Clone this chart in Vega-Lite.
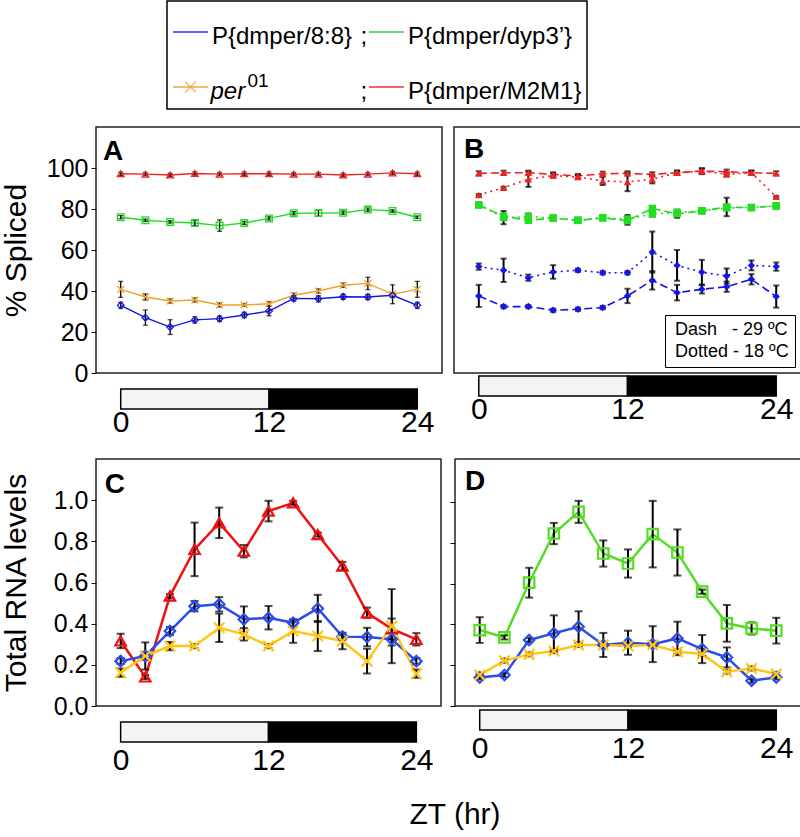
{
  "$schema": "https://vega.github.io/schema/vega-lite/v6.json",
  "padding": 0,
  "background": "white",
  "config": {
    "font": "Liberation Sans",
    "view": {"stroke": "#222222", "strokeWidth": 1.5},
    "axis": {"labelFont": "Liberation Sans", "titleFont": "Liberation Sans", "labelColor": "black", "titleColor": "black", "tickColor": "black", "grid": false, "domain": false, "titleFontWeight": "normal"},
    "title": {"font": "Liberation Sans", "color": "black"},
    "legend": {"labelFont": "Liberation Sans", "labelColor": "black"}
  },
  "datasets": {
    "leg": [
      {"s": "8:8", "col": 0, "row": 0, "label": "P{dmper/8:8}", "sup": ""},
      {"s": "dyp3", "col": 1, "row": 0, "label": "P{dmper/dyp3’}", "sup": ""},
      {"s": "per01", "col": 0, "row": 1, "label": "per", "sup": "01"},
      {"s": "M2M1", "col": 1, "row": 1, "label": "P{dmper/M2M1}", "sup": ""}
    ],
    "bar": [
      {"phase": "light", "start": 0, "end": 12},
      {"phase": "dark", "start": 12, "end": 24}
    ],
    "A": [
      {"s":"M2M1","t":0,"v":97.2,"lo":96.4,"hi":98.0},{"s":"M2M1","t":2,"v":97.0,"lo":96.2,"hi":97.8},{"s":"M2M1","t":4,"v":96.6,"lo":95.8,"hi":97.4},{"s":"M2M1","t":6,"v":97.3,"lo":96.5,"hi":98.1},{"s":"M2M1","t":8,"v":97.0,"lo":96.2,"hi":97.8},{"s":"M2M1","t":10,"v":97.2,"lo":96.4,"hi":98.0},{"s":"M2M1","t":12,"v":97.2,"lo":96.4,"hi":98.0},{"s":"M2M1","t":14,"v":97.0,"lo":96.2,"hi":97.8},{"s":"M2M1","t":16,"v":97.0,"lo":96.2,"hi":97.8},{"s":"M2M1","t":18,"v":96.6,"lo":95.8,"hi":97.4},{"s":"M2M1","t":20,"v":97.0,"lo":96.2,"hi":97.8},{"s":"M2M1","t":22,"v":97.6,"lo":96.8,"hi":98.4},{"s":"M2M1","t":24,"v":97.2,"lo":96.4,"hi":98.0},
      {"s":"dyp3","t":0,"v":76.0,"lo":75.2,"hi":76.8},{"s":"dyp3","t":2,"v":74.5,"lo":73.9,"hi":75.1},{"s":"dyp3","t":4,"v":73.7,"lo":73.1,"hi":74.3},{"s":"dyp3","t":6,"v":73.2,"lo":72.0,"hi":74.4},{"s":"dyp3","t":8,"v":71.9,"lo":69.1,"hi":74.7},{"s":"dyp3","t":10,"v":73.2,"lo":72.4,"hi":74.0},{"s":"dyp3","t":12,"v":75.4,"lo":74.6,"hi":76.2},{"s":"dyp3","t":14,"v":77.9,"lo":77.1,"hi":78.7},{"s":"dyp3","t":16,"v":78.0,"lo":76.5,"hi":79.5},{"s":"dyp3","t":18,"v":78.2,"lo":77.4,"hi":79.0},{"s":"dyp3","t":20,"v":79.7,"lo":78.9,"hi":80.5},{"s":"dyp3","t":22,"v":79.0,"lo":78.4,"hi":79.6},{"s":"dyp3","t":24,"v":76.0,"lo":75.4,"hi":76.6},
      {"s":"per01","t":0,"v":40.8,"lo":36.9,"hi":44.7},{"s":"per01","t":2,"v":37.1,"lo":35.6,"hi":38.6},{"s":"per01","t":4,"v":35.1,"lo":34.1,"hi":36.1},{"s":"per01","t":6,"v":35.6,"lo":34.6,"hi":36.6},{"s":"per01","t":8,"v":33.2,"lo":32.2,"hi":34.2},{"s":"per01","t":10,"v":33.2,"lo":32.5,"hi":33.9},{"s":"per01","t":12,"v":33.8,"lo":32.8,"hi":34.8},{"s":"per01","t":14,"v":37.9,"lo":36.9,"hi":38.9},{"s":"per01","t":16,"v":40.0,"lo":39.0,"hi":41.0},{"s":"per01","t":18,"v":42.8,"lo":41.8,"hi":43.8},{"s":"per01","t":20,"v":43.7,"lo":40.7,"hi":46.7},{"s":"per01","t":22,"v":38.4,"lo":33.8,"hi":43.0},{"s":"per01","t":24,"v":40.8,"lo":36.9,"hi":44.7},
      {"s":"8:8","t":0,"v":33.0,"lo":31.5,"hi":34.5},{"s":"8:8","t":2,"v":27.0,"lo":23.3,"hi":30.7},{"s":"8:8","t":4,"v":22.4,"lo":18.8,"hi":26.0},{"s":"8:8","t":6,"v":25.9,"lo":24.4,"hi":27.4},{"s":"8:8","t":8,"v":26.5,"lo":25.2,"hi":27.8},{"s":"8:8","t":10,"v":28.3,"lo":27.0,"hi":29.6},{"s":"8:8","t":12,"v":30.2,"lo":27.9,"hi":32.5},{"s":"8:8","t":14,"v":36.4,"lo":35.1,"hi":37.7},{"s":"8:8","t":16,"v":36.2,"lo":34.7,"hi":37.7},{"s":"8:8","t":18,"v":37.2,"lo":35.9,"hi":38.5},{"s":"8:8","t":20,"v":37.1,"lo":35.8,"hi":38.4},{"s":"8:8","t":22,"v":37.9,"lo":36.9,"hi":38.9},{"s":"8:8","t":24,"v":33.0,"lo":31.5,"hi":34.5}
    ],
    "B": [
      {"s":"M2M1","temp":"29","t":0,"v":97.4,"lo":96.4,"hi":98.4},{"s":"M2M1","temp":"29","t":2,"v":97.7,"lo":96.7,"hi":98.7},{"s":"M2M1","temp":"29","t":4,"v":97.7,"lo":96.7,"hi":98.7},{"s":"M2M1","temp":"29","t":6,"v":96.9,"lo":95.9,"hi":97.9},{"s":"M2M1","temp":"29","t":8,"v":96.1,"lo":95.1,"hi":97.1},{"s":"M2M1","temp":"29","t":10,"v":97.2,"lo":96.2,"hi":98.2},{"s":"M2M1","temp":"29","t":12,"v":97.4,"lo":96.4,"hi":98.4},{"s":"M2M1","temp":"29","t":14,"v":96.9,"lo":95.9,"hi":97.9},{"s":"M2M1","temp":"29","t":16,"v":97.7,"lo":96.7,"hi":98.7},{"s":"M2M1","temp":"29","t":18,"v":98.5,"lo":97.0,"hi":100.0},{"s":"M2M1","temp":"29","t":20,"v":98.2,"lo":97.2,"hi":99.2},{"s":"M2M1","temp":"29","t":22,"v":97.7,"lo":96.7,"hi":98.7},{"s":"M2M1","temp":"29","t":24,"v":97.4,"lo":96.4,"hi":98.4},
      {"s":"M2M1","temp":"18","t":0,"v":86.8,"lo":86.3,"hi":87.3},{"s":"M2M1","temp":"18","t":2,"v":90.4,"lo":89.9,"hi":90.9},{"s":"M2M1","temp":"18","t":4,"v":94.5,"lo":90.8,"hi":98.2},{"s":"M2M1","temp":"18","t":6,"v":96.3,"lo":95.3,"hi":97.3},{"s":"M2M1","temp":"18","t":8,"v":95.6,"lo":94.6,"hi":96.6},{"s":"M2M1","temp":"18","t":10,"v":93.7,"lo":91.7,"hi":95.7},{"s":"M2M1","temp":"18","t":12,"v":93.2,"lo":88.7,"hi":97.7},{"s":"M2M1","temp":"18","t":14,"v":94.5,"lo":92.5,"hi":96.5},{"s":"M2M1","temp":"18","t":16,"v":97.7,"lo":96.7,"hi":98.7},{"s":"M2M1","temp":"18","t":18,"v":98.5,"lo":97.5,"hi":99.5},{"s":"M2M1","temp":"18","t":20,"v":96.9,"lo":95.9,"hi":97.9},{"s":"M2M1","temp":"18","t":22,"v":97.7,"lo":96.7,"hi":98.7},{"s":"M2M1","temp":"18","t":24,"v":85.9,"lo":85.4,"hi":86.4},
      {"s":"dyp3","temp":"29","t":0,"v":82.0,"lo":81.2,"hi":82.8},{"s":"dyp3","temp":"29","t":2,"v":76.5,"lo":75.5,"hi":77.5},{"s":"dyp3","temp":"29","t":4,"v":74.5,"lo":73.5,"hi":75.5},{"s":"dyp3","temp":"29","t":6,"v":75.6,"lo":74.6,"hi":76.6},{"s":"dyp3","temp":"29","t":8,"v":74.4,"lo":73.4,"hi":75.4},{"s":"dyp3","temp":"29","t":10,"v":75.6,"lo":74.6,"hi":76.6},{"s":"dyp3","temp":"29","t":12,"v":74.3,"lo":72.3,"hi":76.3},{"s":"dyp3","temp":"29","t":14,"v":80.3,"lo":79.5,"hi":81.1},{"s":"dyp3","temp":"29","t":16,"v":77.7,"lo":75.7,"hi":79.7},{"s":"dyp3","temp":"29","t":18,"v":79.0,"lo":78.0,"hi":80.0},{"s":"dyp3","temp":"29","t":20,"v":81.0,"lo":76.5,"hi":85.5},{"s":"dyp3","temp":"29","t":22,"v":80.6,"lo":79.6,"hi":81.6},{"s":"dyp3","temp":"29","t":24,"v":81.5,"lo":80.7,"hi":82.3},
      {"s":"dyp3","temp":"18","t":0,"v":82.0,"lo":81.2,"hi":82.8},{"s":"dyp3","temp":"18","t":2,"v":75.8,"lo":72.6,"hi":79.0},{"s":"dyp3","temp":"18","t":4,"v":76.3,"lo":74.8,"hi":77.8},{"s":"dyp3","temp":"18","t":6,"v":75.6,"lo":74.6,"hi":76.6},{"s":"dyp3","temp":"18","t":8,"v":74.6,"lo":73.6,"hi":75.6},{"s":"dyp3","temp":"18","t":10,"v":75.8,"lo":74.8,"hi":76.8},{"s":"dyp3","temp":"18","t":12,"v":75.1,"lo":73.1,"hi":77.1},{"s":"dyp3","temp":"18","t":14,"v":77.5,"lo":76.5,"hi":78.5},{"s":"dyp3","temp":"18","t":16,"v":78.3,"lo":77.3,"hi":79.3},{"s":"dyp3","temp":"18","t":18,"v":79.2,"lo":78.2,"hi":80.2},{"s":"dyp3","temp":"18","t":20,"v":80.5,"lo":79.5,"hi":81.5},{"s":"dyp3","temp":"18","t":22,"v":80.8,"lo":79.8,"hi":81.8},{"s":"dyp3","temp":"18","t":24,"v":81.5,"lo":80.7,"hi":82.3},
      {"s":"8:8","temp":"18","t":0,"v":51.9,"lo":50.4,"hi":53.4},{"s":"8:8","temp":"18","t":2,"v":50.1,"lo":44.4,"hi":55.8},{"s":"8:8","temp":"18","t":4,"v":46.5,"lo":45.0,"hi":48.0},{"s":"8:8","temp":"18","t":6,"v":49.3,"lo":46.0,"hi":52.6},{"s":"8:8","temp":"18","t":8,"v":50.1,"lo":49.3,"hi":50.9},{"s":"8:8","temp":"18","t":10,"v":48.9,"lo":48.1,"hi":49.7},{"s":"8:8","temp":"18","t":12,"v":48.9,"lo":48.1,"hi":49.7},{"s":"8:8","temp":"18","t":14,"v":59.0,"lo":49.0,"hi":69.0},{"s":"8:8","temp":"18","t":16,"v":52.5,"lo":45.0,"hi":60.0},{"s":"8:8","temp":"18","t":18,"v":49.2,"lo":43.2,"hi":55.2},{"s":"8:8","temp":"18","t":20,"v":47.3,"lo":43.6,"hi":51.0},{"s":"8:8","temp":"18","t":22,"v":52.5,"lo":50.1,"hi":54.9},{"s":"8:8","temp":"18","t":24,"v":51.9,"lo":49.9,"hi":53.9},
      {"s":"8:8","temp":"29","t":0,"v":37.6,"lo":32.2,"hi":43.0},{"s":"8:8","temp":"29","t":2,"v":32.4,"lo":31.6,"hi":33.2},{"s":"8:8","temp":"29","t":4,"v":32.4,"lo":31.6,"hi":33.2},{"s":"8:8","temp":"29","t":6,"v":30.6,"lo":29.8,"hi":31.4},{"s":"8:8","temp":"29","t":8,"v":31.1,"lo":30.3,"hi":31.9},{"s":"8:8","temp":"29","t":10,"v":31.9,"lo":31.1,"hi":32.7},{"s":"8:8","temp":"29","t":12,"v":37.6,"lo":34.1,"hi":41.1},{"s":"8:8","temp":"29","t":14,"v":45.2,"lo":40.7,"hi":49.7},{"s":"8:8","temp":"29","t":16,"v":39.2,"lo":35.4,"hi":43.0},{"s":"8:8","temp":"29","t":18,"v":40.8,"lo":38.8,"hi":42.8},{"s":"8:8","temp":"29","t":20,"v":42.1,"lo":39.6,"hi":44.6},{"s":"8:8","temp":"29","t":22,"v":45.7,"lo":43.2,"hi":48.2},{"s":"8:8","temp":"29","t":24,"v":37.3,"lo":31.9,"hi":42.7}
    ],
    "C": [
      {"s":"M2M1","t":0,"v":0.316,"lo":0.281,"hi":0.351},{"s":"M2M1","t":2,"v":0.141,"lo":0.131,"hi":0.151},{"s":"M2M1","t":4,"v":0.534,"lo":0.524,"hi":0.544},{"s":"M2M1","t":6,"v":0.761,"lo":0.631,"hi":0.891},{"s":"M2M1","t":8,"v":0.890,"lo":0.816,"hi":0.964},{"s":"M2M1","t":10,"v":0.752,"lo":0.722,"hi":0.782},{"s":"M2M1","t":12,"v":0.947,"lo":0.897,"hi":0.997},{"s":"M2M1","t":14,"v":0.987,"lo":0.977,"hi":0.997},{"s":"M2M1","t":16,"v":0.833,"lo":0.823,"hi":0.843},{"s":"M2M1","t":18,"v":0.680,"lo":0.660,"hi":0.700},{"s":"M2M1","t":20,"v":0.453,"lo":0.428,"hi":0.478},{"s":"M2M1","t":22,"v":0.375,"lo":0.325,"hi":0.425},{"s":"M2M1","t":24,"v":0.324,"lo":0.294,"hi":0.354},
      {"s":"8:8","t":0,"v":0.218,"lo":0.203,"hi":0.233},{"s":"8:8","t":2,"v":0.243,"lo":0.177,"hi":0.309},{"s":"8:8","t":4,"v":0.364,"lo":0.344,"hi":0.384},{"s":"8:8","t":6,"v":0.485,"lo":0.460,"hi":0.510},{"s":"8:8","t":8,"v":0.494,"lo":0.459,"hi":0.529},{"s":"8:8","t":10,"v":0.421,"lo":0.358,"hi":0.484},{"s":"8:8","t":12,"v":0.429,"lo":0.372,"hi":0.486},{"s":"8:8","t":14,"v":0.404,"lo":0.389,"hi":0.419},{"s":"8:8","t":16,"v":0.474,"lo":0.408,"hi":0.540},{"s":"8:8","t":18,"v":0.337,"lo":0.322,"hi":0.352},{"s":"8:8","t":20,"v":0.335,"lo":0.290,"hi":0.380},{"s":"8:8","t":22,"v":0.324,"lo":0.294,"hi":0.354},{"s":"8:8","t":24,"v":0.218,"lo":0.203,"hi":0.233},
      {"s":"per01","t":0,"v":0.162,"lo":0.142,"hi":0.182},{"s":"per01","t":2,"v":0.243,"lo":0.223,"hi":0.263},{"s":"per01","t":4,"v":0.291,"lo":0.271,"hi":0.311},{"s":"per01","t":6,"v":0.291,"lo":0.281,"hi":0.301},{"s":"per01","t":8,"v":0.380,"lo":0.311,"hi":0.449},{"s":"per01","t":10,"v":0.348,"lo":0.318,"hi":0.378},{"s":"per01","t":12,"v":0.291,"lo":0.281,"hi":0.301},{"s":"per01","t":14,"v":0.364,"lo":0.307,"hi":0.421},{"s":"per01","t":16,"v":0.340,"lo":0.267,"hi":0.413},{"s":"per01","t":18,"v":0.316,"lo":0.276,"hi":0.356},{"s":"per01","t":20,"v":0.218,"lo":0.158,"hi":0.278},{"s":"per01","t":22,"v":0.388,"lo":0.208,"hi":0.568},{"s":"per01","t":24,"v":0.157,"lo":0.137,"hi":0.177}
    ],
    "D": [
      {"s":"dyp3","t":0,"v":0.372,"lo":0.309,"hi":0.435},{"s":"dyp3","t":2,"v":0.336,"lo":0.326,"hi":0.346},{"s":"dyp3","t":4,"v":0.604,"lo":0.531,"hi":0.677},{"s":"dyp3","t":6,"v":0.845,"lo":0.793,"hi":0.897},{"s":"dyp3","t":8,"v":0.951,"lo":0.897,"hi":1.005},{"s":"dyp3","t":10,"v":0.747,"lo":0.683,"hi":0.811},{"s":"dyp3","t":12,"v":0.698,"lo":0.629,"hi":0.767},{"s":"dyp3","t":14,"v":0.842,"lo":0.679,"hi":1.005},{"s":"dyp3","t":16,"v":0.752,"lo":0.639,"hi":0.865},{"s":"dyp3","t":18,"v":0.560,"lo":0.550,"hi":0.570},{"s":"dyp3","t":20,"v":0.405,"lo":0.315,"hi":0.495},{"s":"dyp3","t":22,"v":0.380,"lo":0.350,"hi":0.410},{"s":"dyp3","t":24,"v":0.369,"lo":0.306,"hi":0.432},
      {"s":"8:8","t":0,"v":0.140,"lo":0.130,"hi":0.150},{"s":"8:8","t":2,"v":0.152,"lo":0.142,"hi":0.162},{"s":"8:8","t":4,"v":0.323,"lo":0.313,"hi":0.333},{"s":"8:8","t":6,"v":0.356,"lo":0.268,"hi":0.444},{"s":"8:8","t":8,"v":0.388,"lo":0.312,"hi":0.464},{"s":"8:8","t":10,"v":0.299,"lo":0.240,"hi":0.358},{"s":"8:8","t":12,"v":0.310,"lo":0.251,"hi":0.369},{"s":"8:8","t":14,"v":0.303,"lo":0.215,"hi":0.391},{"s":"8:8","t":16,"v":0.331,"lo":0.249,"hi":0.413},{"s":"8:8","t":18,"v":0.279,"lo":0.210,"hi":0.348},{"s":"8:8","t":20,"v":0.238,"lo":0.189,"hi":0.287},{"s":"8:8","t":22,"v":0.124,"lo":0.114,"hi":0.134},{"s":"8:8","t":24,"v":0.140,"lo":0.130,"hi":0.150},
      {"s":"per01","t":0,"v":0.152,"lo":0.142,"hi":0.162},{"s":"per01","t":2,"v":0.222,"lo":0.212,"hi":0.232},{"s":"per01","t":4,"v":0.253,"lo":0.243,"hi":0.263},{"s":"per01","t":6,"v":0.269,"lo":0.259,"hi":0.279},{"s":"per01","t":8,"v":0.299,"lo":0.289,"hi":0.309},{"s":"per01","t":10,"v":0.299,"lo":0.289,"hi":0.309},{"s":"per01","t":12,"v":0.294,"lo":0.284,"hi":0.304},{"s":"per01","t":14,"v":0.299,"lo":0.289,"hi":0.309},{"s":"per01","t":16,"v":0.266,"lo":0.256,"hi":0.276},{"s":"per01","t":18,"v":0.255,"lo":0.245,"hi":0.265},{"s":"per01","t":20,"v":0.168,"lo":0.158,"hi":0.178},{"s":"per01","t":22,"v":0.184,"lo":0.174,"hi":0.194},{"s":"per01","t":24,"v":0.157,"lo":0.147,"hi":0.167}
    ]
  },
  "resolve": {"scale": {"color": "independent", "shape": "independent", "strokeDash": "independent"}, "legend": {"strokeDash": "independent"}},
  "spacing": 16,
  "vconcat": [
    {
      "spacing": 20,
      "hconcat": [
        {"width": 50, "height": 108, "view": {"stroke": null}, "data": {"values": [{}]}, "mark": {"type": "point", "opacity": 0}},
        {
          "width": 420, "height": 108,
          "view": {"stroke": "black", "strokeWidth": 1.5},
          "data": {"name": "leg"},
          "encoding": {
            "x": {"field": "col", "type": "quantitative", "scale": {"domain": [-0.1199, 2.023], "nice": false, "zero": false}, "axis": null},
            "y": {"field": "row", "type": "quantitative", "scale": {"domain": [-0.5636, 1.4], "nice": false, "zero": false, "reverse": true}, "axis": null}
          },
          "layer": [
            {"mark": {"type": "tick", "orient": "horizontal", "size": 35, "thickness": 2},
             "encoding": {"color": {"field": "s", "type": "nominal", "scale": {"domain": ["8:8", "dyp3", "per01", "M2M1"], "range": ["#1a22ee", "#22cc22", "#f0a030", "#ee2222"]}, "legend": null}}},
            {"transform": [{"filter": "datum.s == 'per01'"}],
             "mark": {"type": "point", "shape": "M-1,-1L1,1M1,-1L-1,1", "size": 110, "filled": false, "strokeWidth": 1.5},
             "encoding": {"color": {"field": "s", "type": "nominal", "legend": null}}},
            {"transform": [{"filter": "datum.s != 'per01'"}],
             "mark": {"type": "text", "align": "left", "baseline": "middle", "dx": 21.5, "dy": 5, "fontSize": 24, "color": "black"},
             "encoding": {"text": {"field": "label"}}},
            {"transform": [{"filter": "datum.s == 'per01'"}],
             "mark": {"type": "text", "align": "left", "baseline": "middle", "dx": 20, "dy": 5, "fontSize": 24, "fontStyle": "italic", "color": "black"},
             "encoding": {"text": {"field": "label"}}},
            {"transform": [{"filter": "datum.s == 'per01'"}],
             "mark": {"type": "text", "align": "left", "baseline": "middle", "dx": 57, "dy": -6, "fontSize": 19, "color": "black"},
             "encoding": {"text": {"field": "sup"}}},
            {"transform": [{"filter": "datum.col == 0"}],
             "mark": {"type": "text", "align": "left", "baseline": "middle", "dx": 170, "dy": 5, "fontSize": 24, "color": "black", "text": ";"},
             "encoding": {}}
          ]
        }
      ]
    },
    {
      "title": {"text": "ZT (hr)", "orient": "bottom", "anchor": "middle", "frame": "group", "dx": 359, "offset": 25, "fontSize": 30, "fontWeight": "normal"},
      "spacing": 21,
      "resolve": {"scale": {"color": "independent", "shape": "independent", "strokeDash": "independent"}, "legend": {"strokeDash": "independent"}},
      "vconcat": [
        {
          "spacing": 10,
          "resolve": {"scale": {"strokeDash": "independent"}, "legend": {"strokeDash": "independent"}},
          "hconcat": [
            {
              "spacing": 1,
              "vconcat": [
                {
                  "width": 346, "height": 246,
                  "data": {"name": "A"},
                  "layer": [
                    {"mark": {"type": "line", "strokeWidth": 1.4},
                     "encoding": {
                       "x": {"field": "t", "type": "quantitative", "scale": {"domain": [-2, 26], "nice": false}, "axis": null},
                       "y": {"field": "v", "type": "quantitative", "title": "% Spliced", "scale": {"domain": [0, 120], "nice": false}, "axis": {"values": [0, 20, 40, 60, 80, 100], "tickSize": 5, "labelFontSize": 25, "labelPadding": 3, "minExtent": 50, "maxExtent": 50, "titleFontSize": 30, "titlePadding": 15}},
                       "color": {"field": "s", "type": "nominal", "scale": {"domain": ["8:8", "dyp3", "per01", "M2M1"], "range": ["#1515e8", "#22dd22", "#f0a030", "#ee2222"]}, "legend": null}}},
                    {"mark": {"type": "errorbar", "color": "black", "thickness": 1.3, "ticks": true, "size": 5},
                     "encoding": {
                       "x": {"field": "t", "type": "quantitative", "axis": null},
                       "y": {"field": "lo", "type": "quantitative", "title": "% Spliced"},
                       "y2": {"field": "hi"}}},
                    {"mark": {"type": "point", "filled": false, "size": 45, "strokeWidth": 1.3, "opacity": 1},
                     "encoding": {
                       "x": {"field": "t", "type": "quantitative", "axis": null},
                       "y": {"field": "v", "type": "quantitative", "title": "% Spliced"},
                       "color": {"field": "s", "type": "nominal", "legend": null},
                       "shape": {"field": "s", "type": "nominal", "scale": {"domain": ["8:8", "dyp3", "per01", "M2M1"], "range": ["diamond", "square", "M-1,-1L1,1M1,-1L-1,1", "triangle-up"]}, "legend": null}}},
                    {"data": {"values": [{"label": "A"}]},
                     "mark": {"type": "text", "align": "left", "baseline": "alphabetic", "fontSize": 28, "fontWeight": "bold", "color": "black"},
                     "encoding": {"text": {"field": "label"}, "x": {"datum": -1.43}, "y": {"datum": 103.9}}}
                  ]
                },
                {
                  "width": 346, "height": 20, "view": {"stroke": null},
                  "data": {"name": "bar"},
                  "mark": {"type": "rect", "stroke": "black", "strokeWidth": 1.5},
                  "encoding": {
                    "x": {"field": "start", "type": "quantitative", "scale": {"domain": [-2, 26], "nice": false}, "axis": {"values": [0, 12, 24], "ticks": false, "domain": false, "labelFontSize": 30, "labelPadding": -2, "title": null, "labelFlush": false}},
                    "x2": {"field": "end"},
                    "fill": {"field": "phase", "type": "nominal", "scale": {"domain": ["light", "dark"], "range": ["#f3f5f5", "#000000"]}, "legend": null}}
                }
              ]
            },
            {
              "spacing": 1,
              "resolve": {"scale": {"strokeDash": "independent"}, "legend": {"strokeDash": "independent"}},
              "vconcat": [
                {
                  "width": 347, "height": 246,
                  "data": {"name": "B"},
                  "layer": [
                    {"mark": {"type": "line", "strokeWidth": 1.6},
                     "encoding": {
                       "x": {"field": "t", "type": "quantitative", "scale": {"domain": [-2, 26], "nice": false}, "axis": null},
                       "y": {"field": "v", "type": "quantitative", "scale": {"domain": [0, 120], "nice": false}, "axis": null},
                       "color": {"field": "s", "type": "nominal", "legend": null},
                       "strokeDash": {"field": "temp", "type": "nominal", "scale": {"domain": ["29", "18"], "range": [[8, 4], [2, 4]]},
                         "legend": {"title": null, "orient": "bottom-right", "offset": 6, "padding": 6, "strokeColor": "black", "fillColor": "white", "labelFontSize": 18, "symbolType": "circle", "symbolOpacity": 0, "symbolSize": 0.01, "symbolStrokeWidth": 0, "labelOffset": -14, "rowPadding": 4,
                           "labelExpr": "datum.label == '29' ? 'Dash\u00a0\u00a0\u00a0- 29 ºC' : 'Dotted - 18 ºC'"}}}},
                    {"mark": {"type": "errorbar", "color": "black", "thickness": 2, "ticks": true, "size": 6},
                     "encoding": {
                       "x": {"field": "t", "type": "quantitative", "axis": null},
                       "y": {"field": "lo", "type": "quantitative", "axis": null},
                       "y2": {"field": "hi"}}},
                    {"mark": {"type": "point", "filled": true, "size": 55, "opacity": 1},
                     "encoding": {
                       "x": {"field": "t", "type": "quantitative", "axis": null},
                       "y": {"field": "v", "type": "quantitative", "axis": null},
                       "color": {"field": "s", "type": "nominal", "legend": null},
                       "shape": {"field": "s", "type": "nominal", "legend": null}}},
                    {"data": {"values": [{"label": "B"}]},
                     "mark": {"type": "text", "align": "left", "baseline": "alphabetic", "fontSize": 28, "fontWeight": "bold", "color": "black"},
                     "encoding": {"text": {"field": "label"}, "x": {"datum": -1.2}, "y": {"datum": 104.9}}}
                  ]
                },
                {
                  "width": 347, "height": 20, "view": {"stroke": null},
                  "data": {"name": "bar"},
                  "mark": {"type": "rect", "stroke": "black", "strokeWidth": 1.5},
                  "encoding": {
                    "x": {"field": "start", "type": "quantitative", "scale": {"domain": [-2, 26], "nice": false}, "axis": {"values": [0, 12, 24], "ticks": false, "domain": false, "labelFontSize": 30, "labelPadding": -2, "title": null, "labelFlush": false}},
                    "x2": {"field": "end"},
                    "fill": {"field": "phase", "type": "nominal", "legend": null}}
                }
              ]
            }
          ]
        },
        {
          "spacing": 6,
          "hconcat": [
            {
              "spacing": 1,
              "vconcat": [
                {
                  "width": 345, "height": 247,
                  "data": {"name": "C"},
                  "layer": [
                    {"mark": {"type": "line", "strokeWidth": 2.5},
                     "encoding": {
                       "x": {"field": "t", "type": "quantitative", "scale": {"domain": [-2, 26], "nice": false}, "axis": null},
                       "y": {"field": "v", "type": "quantitative", "title": "Total RNA levels", "scale": {"domain": [0, 1.2], "nice": false}, "axis": {"values": [0, 0.2, 0.4, 0.6, 0.8, 1.0], "format": ".1f", "tickSize": 5, "labelFontSize": 25, "labelPadding": 3, "minExtent": 50, "maxExtent": 50, "titleFontSize": 30, "titlePadding": 15}},
                       "color": {"field": "s", "type": "nominal", "scale": {"domain": ["8:8", "dyp3", "per01", "M2M1"], "range": ["#2b4de8", "#55dd22", "#ffc61a", "#ee1111"]}, "legend": null}}},
                    {"mark": {"type": "errorbar", "color": "black", "thickness": 2, "ticks": true, "size": 8},
                     "encoding": {
                       "x": {"field": "t", "type": "quantitative", "axis": null},
                       "y": {"field": "lo", "type": "quantitative", "title": "Total RNA levels"},
                       "y2": {"field": "hi"}}},
                    {"mark": {"type": "point", "filled": false, "size": 110, "strokeWidth": 2.2, "opacity": 1},
                     "encoding": {
                       "x": {"field": "t", "type": "quantitative", "axis": null},
                       "y": {"field": "v", "type": "quantitative", "title": "Total RNA levels"},
                       "color": {"field": "s", "type": "nominal", "legend": null},
                       "shape": {"field": "s", "type": "nominal", "scale": {"domain": ["8:8", "dyp3", "per01", "M2M1"], "range": ["diamond", "square", "M-1,-1L1,1M1,-1L-1,1", "triangle-up"]}, "legend": null}}},
                    {"data": {"values": [{"label": "C"}]},
                     "mark": {"type": "text", "align": "left", "baseline": "alphabetic", "fontSize": 28, "fontWeight": "bold", "color": "black"},
                     "encoding": {"text": {"field": "label"}, "x": {"datum": -1.3}, "y": {"datum": 1.035}}}
                  ]
                },
                {
                  "width": 345, "height": 20, "view": {"stroke": null},
                  "data": {"name": "bar"},
                  "mark": {"type": "rect", "stroke": "black", "strokeWidth": 1.5},
                  "encoding": {
                    "x": {"field": "start", "type": "quantitative", "scale": {"domain": [-2, 26], "nice": false}, "axis": {"values": [0, 12, 24], "ticks": false, "domain": false, "labelFontSize": 30, "labelPadding": 3, "title": null, "labelFlush": false}},
                    "x2": {"field": "end"},
                    "fill": {"field": "phase", "type": "nominal", "scale": {"domain": ["light", "dark"], "range": ["#f3f5f5", "#000000"]}, "legend": null}}
                }
              ]
            },
            {
              "spacing": 1,
              "vconcat": [
                {
                  "width": 346, "height": 247,
                  "data": {"name": "D"},
                  "layer": [
                    {"mark": {"type": "line", "strokeWidth": 2.5},
                     "encoding": {
                       "x": {"field": "t", "type": "quantitative", "scale": {"domain": [-2, 26], "nice": false}, "axis": null},
                       "y": {"field": "v", "type": "quantitative", "title": null, "scale": {"domain": [0, 1.21], "nice": false}, "axis": {"values": [0, 0.2, 0.4, 0.6, 0.8, 1.0], "labels": false, "tickSize": 5, "title": null}},
                       "color": {"field": "s", "type": "nominal", "legend": null}}},
                    {"mark": {"type": "errorbar", "color": "black", "thickness": 2, "ticks": true, "size": 8},
                     "encoding": {
                       "x": {"field": "t", "type": "quantitative", "axis": null},
                       "y": {"field": "lo", "type": "quantitative", "title": null},
                       "y2": {"field": "hi"}}},
                    {"mark": {"type": "point", "filled": false, "size": 110, "strokeWidth": 2.2, "opacity": 1},
                     "encoding": {
                       "x": {"field": "t", "type": "quantitative", "axis": null},
                       "y": {"field": "v", "type": "quantitative", "title": null},
                       "color": {"field": "s", "type": "nominal", "legend": null},
                       "shape": {"field": "s", "type": "nominal", "legend": null}}},
                    {"data": {"values": [{"label": "D"}]},
                     "mark": {"type": "text", "align": "left", "baseline": "alphabetic", "fontSize": 28, "fontWeight": "bold", "color": "black"},
                     "encoding": {"text": {"field": "label"}, "x": {"datum": -1.2}, "y": {"datum": 1.059}}}
                  ]
                },
                {
                  "width": 346, "height": 20, "view": {"stroke": null},
                  "data": {"name": "bar"},
                  "mark": {"type": "rect", "stroke": "black", "strokeWidth": 1.5},
                  "encoding": {
                    "x": {"field": "start", "type": "quantitative", "scale": {"domain": [-2, 26], "nice": false}, "axis": {"values": [0, 12, 24], "ticks": false, "domain": false, "labelFontSize": 30, "labelPadding": 3, "title": null, "labelFlush": false}},
                    "x2": {"field": "end"},
                    "fill": {"field": "phase", "type": "nominal", "legend": null}}
                }
              ]
            }
          ]
        }
      ]
    }
  ]
}
